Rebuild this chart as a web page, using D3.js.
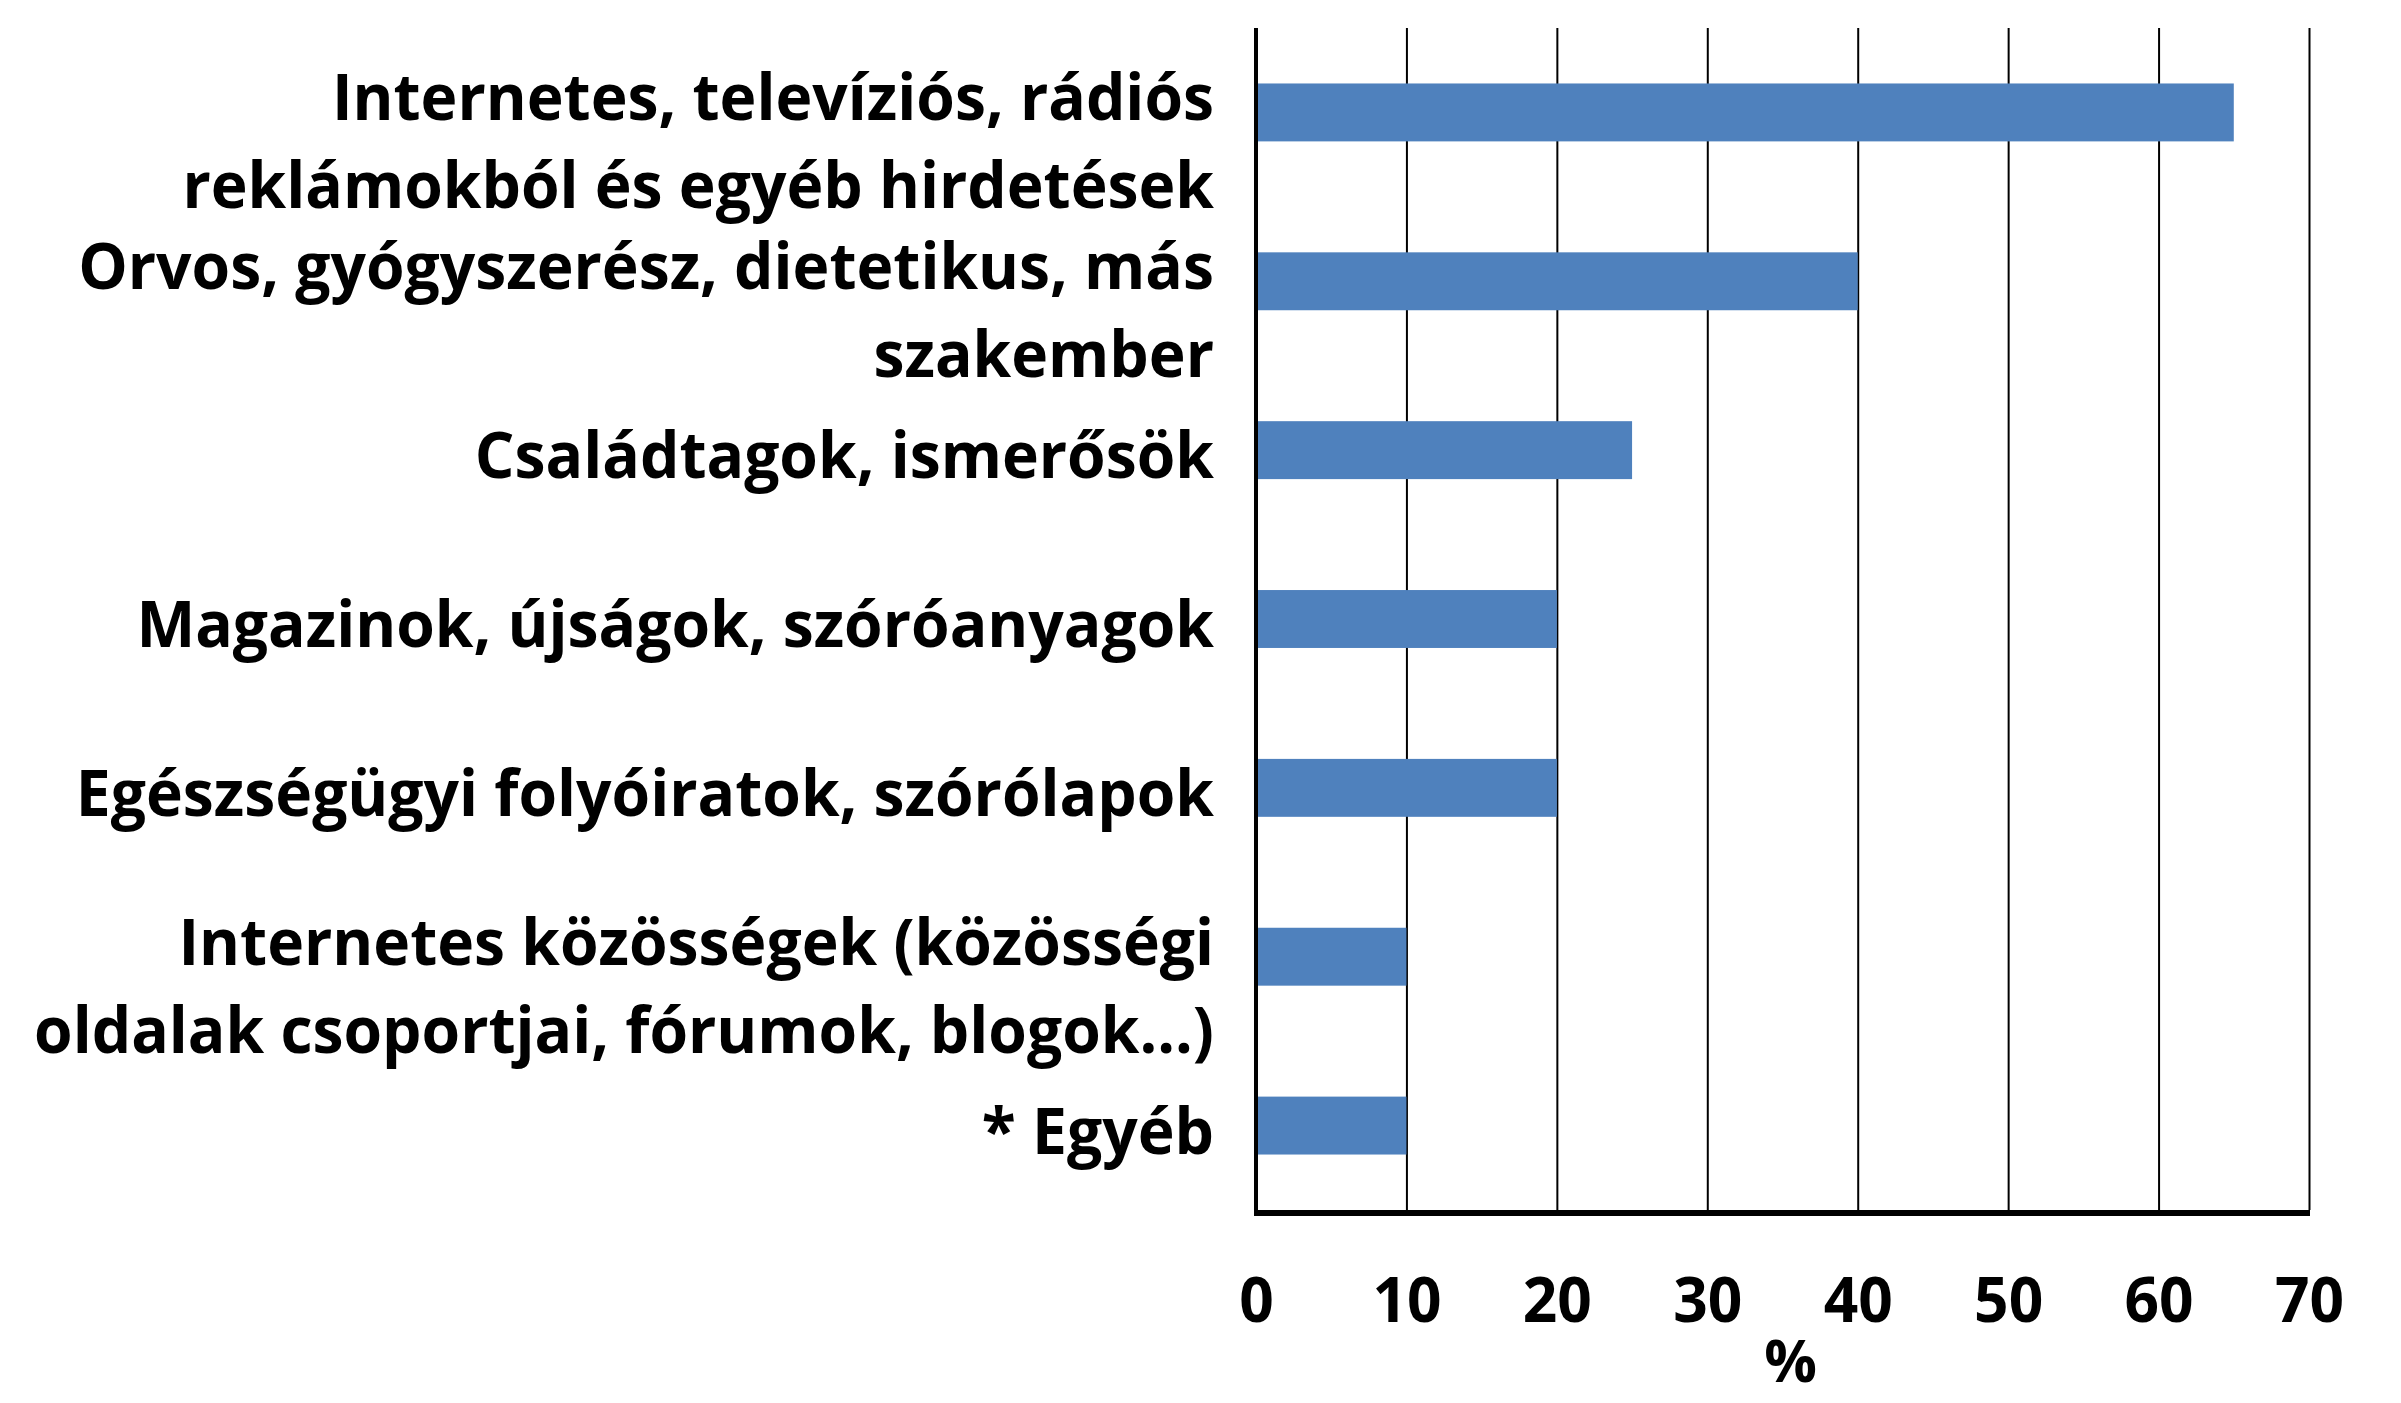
<!DOCTYPE html>
<html>
<head>
<meta charset="utf-8">
<script src="https://cdn.jsdelivr.net/npm/d3@7"></script>
<style>
  body { margin: 0; background: #fff; }
  text { font-family: "Open Sans", "Noto Sans", sans-serif; font-weight: bold; fill: #000; }
</style>
</head>
<body>
<div id="chart"></div>
<script>
const categories = [
  "Internetes, televíziós, rádiós\nreklámokból és egyéb hirdetések",
  "Orvos, gyógyszerész, dietetikus, más\nszakember",
  "Családtagok, ismerősök",
  "Magazinok, újságok, szóróanyagok",
  "Egészségügyi folyóiratok, szórólapok",
  "Internetes közösségek (közösségi\noldalak csoportjai, fórumok, blogok...)",
  "* Egyéb"
];
const values = [65, 40, 25, 20, 20, 10, 10];
const xTicks = [0, 10, 20, 30, 40, 50, 60, 70];
const xTitle = "%";

const width = 2401, height = 1403;
const plot = { left: 1256, right: 2309, top: 28, bottom: 1210 };

let svg = d3.select("#chart")
    .append("svg")
    .attr("width", width)
    .attr("height", height);

let x = d3.scaleLinear()
    .domain([0, 70])
    .range([plot.left, plot.right]);

let y = d3.scaleBand()
    .domain(categories)
    .range([plot.top, plot.bottom])
    .paddingInner(0.657)
    .paddingOuter(0.657 / 2);

// vertical gridlines + tick labels
let xAxis = svg.append("g")
    .attr("transform", `translate(0,${plot.bottom})`)
    .call(d3.axisBottom(x).tickValues(xTicks).tickFormat(d3.format("d"))
        .tickSize(-(plot.bottom - plot.top)).tickPadding(68))
    .call(g => g.select(".domain").remove());

xAxis.selectAll(".tick line")
    .attr("stroke", "#000")
    .attr("stroke-width", 2);

xAxis.selectAll(".tick text")
    .style("font-size", "62px")
    .attr("dy", "0.71em");

// bars
svg.append("g")
    .selectAll("rect")
    .data(values)
    .enter()
    .append("rect")
    .attr("fill", "#4F81BD")
    .attr("x", x(0))
    .attr("y", (d, i) => y(categories[i]))
    .attr("width", d => x(d) - x(0))
    .attr("height", y.bandwidth());

// axis lines
svg.append("line")
    .attr("x1", x(0)).attr("x2", x(0))
    .attr("y1", plot.top).attr("y2", plot.bottom + 3)
    .attr("stroke", "#000").attr("stroke-width", 4);

svg.append("line")
    .attr("x1", x(0) - 2).attr("x2", x(70) + 1)
    .attr("y1", plot.bottom + 3).attr("y2", plot.bottom + 3)
    .attr("stroke", "#000").attr("stroke-width", 6);

// category labels
const lineH = 88;
let labels = svg.append("g")
    .selectAll("g")
    .data(categories)
    .enter()
    .append("g");

labels.each(function(d) {
    let lines = d.split("\n");
    let n = lines.length;
    let cy = y(d) + y.bandwidth() / 2;
    let first = cy + 28 - (n - 1) * 20;
    let g = d3.select(this).attr("transform", `translate(${x(0) - 42},${first})`);
    let t = g.append("text")
        .attr("text-anchor", "end")
        .style("font-size", "64px");
    lines.forEach((l, i) => {
        t.append("tspan").attr("x", 0).attr("dy", i === 0 ? 0 : lineH).text(l);
    });
});

// squeeze the substitute font to the original's narrower width
let longest = 0;
labels.selectAll("tspan").each(function() {
    longest = Math.max(longest, this.getComputedTextLength());
});
const sx = 1180 / longest;
labels.select("text").attr("transform", `scale(${sx},1)`);
xAxis.selectAll(".tick text").attr("transform", `scale(${sx},1)`);

// axis title
svg.append("text")
    .attr("transform", `translate(${(plot.left + plot.right) / 2 + 8},1382) scale(${sx},1)`)
    .attr("text-anchor", "middle")
    .style("font-size", "60px")
    .text(xTitle);
</script>
</body>
</html>
